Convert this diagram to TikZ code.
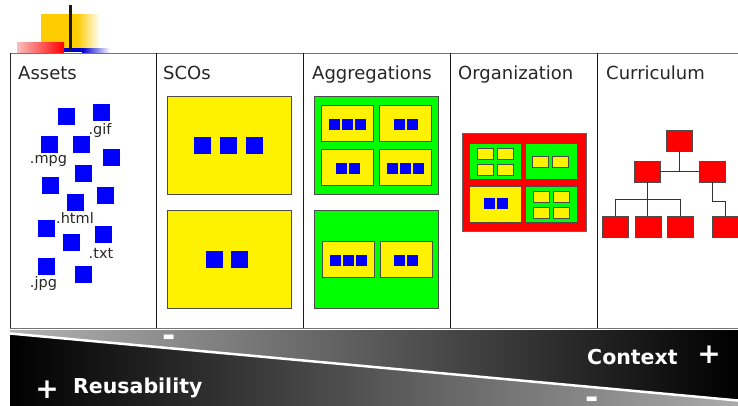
\documentclass[tikz,border=0pt]{standalone}
\usepackage{fontspec}
\setmainfont{DejaVu Sans}
\usepackage{tikz}
\usetikzlibrary{calc}

\definecolor{decoyellow}{RGB}{255,204,0}
\definecolor{decopink}{RGB}{250,190,190}

\begin{document}
\begin{tikzpicture}[
  x=1pt, y=-1pt,
  hdr/.style={font=\fontsize{18}{18}\selectfont, anchor=base west, inner sep=0pt, text=black!85},
  ext/.style={font=\fontsize{14.5}{14.5}\selectfont, inner sep=0pt, text=black!85},
  blk/.style={fill=blue, minimum size=17, inner sep=0pt},
  sblk/.style={fill=blue, minimum size=11, inner sep=0pt},
  bigbox/.style={draw=black!70, fill=#1, line width=0.8pt, minimum width=124,
                 minimum height=98, inner sep=0pt},
  midbox/.style={draw=black!70, fill=#1, line width=0.8pt, minimum width=52,
                 minimum height=36, inner sep=0pt},
  ysm/.style={draw=black!70, fill=yellow, line width=0.6pt, minimum width=16,
              minimum height=11, inner sep=0pt},
  cbox/.style={draw=black!70, fill=red, line width=0.6pt, minimum width=26,
               minimum height=21, inner sep=0pt},
  conn/.style={draw=black!80, line width=0.8pt},
  band/.style={font=\bfseries\fontsize{20.5}{20.5}\selectfont, text=white, inner sep=0pt},
  sign/.style={font=\bfseries\fontsize{28}{28}\selectfont, text=white, inner sep=0pt},
  minussign/.style={font=\bfseries\fontsize{32}{32}\selectfont, text=white, inner sep=0pt}
]
\useasboundingbox (0,0) rectangle (738,405);
\clip (0,0) rectangle (738,405);

% Title decoration
\fill[decoyellow] (41,14) rectangle (77,50);
\shade[left color=decoyellow, right color=white] (77,14) rectangle (100,50);
\shade[left color=decopink, right color=red] (17,42) rectangle (64,52);
\fill[blue!80!black] (64,48) rectangle (82,52);
\shade[left color=blue!80!black, right color=white] (82,48) rectangle (110,52);
\fill[black!90] (69,5) rectangle (72,52);

% Table frame
\draw[black!55, line width=1pt] (10,53) -- (745,53);
\draw[black!55, line width=1pt] (10,328) -- (745,328);
\draw[black!85, line width=1pt] (10,53) -- (10,328);
\foreach \x in {156.5,303.5,450.5,597.5} { \draw[black!90, line width=0.8pt] (\x,53) -- (\x,328); }

% Column headers
\node[hdr] (hAssets) at (18,79) {Assets};
\node[hdr] (hSCO) at (163,79) {SCOs};
\node[hdr] (hAgg) at (312,79) {Aggregations};
\node[hdr] (hOrg) at (458,79) {Organization};
\node[hdr] (hCur) at (606,79) {Curriculum};

% Assets
\foreach \x/\y [count=\i] in {66.5/116.5, 101.5/112.5, 49.5/144.5, 81.5/144.5,
    111.5/157.5, 83.5/173.5, 50.5/185.5, 105.5/195.5, 75.5/202.5, 46.5/228.5,
    103.5/234.5, 71.5/242.5, 46.5/266.5, 83.5/274.5}
  { \node[blk] (asset\i) at (\x,\y) {}; }
\node[ext] (gif)  at (100,130)  {.gif};
\node[ext] (mpg)  at (48.5,161) {.mpg};
\node[ext] (html) at (75,218)   {.html};
\node[ext] (txt)  at (101,253)  {.txt};
\node[ext] (jpg)  at (43.5,283) {.jpg};

% SCOs
\node[bigbox=yellow] (sco1) at (229,145) {};
\node[bigbox=yellow] (sco2) at (229,259) {};
\foreach \dx [count=\i] in {-27,-1,25} { \node[blk] (sco1-\i) at ($(sco1)+(\dx,0.5)$) {}; }
\foreach \dx [count=\i] in {-14.5,10.5} { \node[blk] (sco2-\i) at ($(sco2)+(\dx,0.5)$) {}; }

% Aggregations
\node[bigbox=green] (agg1) at (376.5,145) {};
\node[bigbox=green] (agg2) at (376.5,259) {};
\node[midbox=yellow] (aggA) at (347.5,123) {};
\node[midbox=yellow] (aggB) at (405.5,123) {};
\node[midbox=yellow] (aggC) at (347.5,167) {};
\node[midbox=yellow] (aggD) at (405.5,167) {};
\node[midbox=yellow] (aggE) at (348,259) {};
\node[midbox=yellow] (aggF) at (406,259) {};
\foreach \b in {aggA,aggD,aggE} {
  \foreach \dx [count=\i] in {-13,0,13} { \node[sblk] (\b-\i) at ($(\b)+(\dx,1)$) {}; }
}
\foreach \b in {aggB,aggC,aggF} {
  \foreach \dx [count=\i] in {-6.5,6.5} { \node[sblk] (\b-\i) at ($(\b)+(\dx,1)$) {}; }
}

% Organization
\node[bigbox=red, draw=black!60] (org) at (524,182) {};
\node[midbox=green]  (orgA) at (495,161) {};
\node[midbox=green]  (orgB) at (551.5,161) {};
\node[midbox=yellow] (orgC) at (495,204) {};
\node[midbox=green]  (orgD) at (551.5,204) {};
\foreach \dx/\dy [count=\i] in {-10/-7, 10/-7, -10/8.5, 10/8.5}
  { \node[ysm] (orgA-\i) at ($(orgA)+(\dx,\dy)$) {}; }
\foreach \dx [count=\i] in {-11.5,8.5} { \node[ysm] (orgB-\i) at ($(orgB)+(\dx,0.5)$) {}; }
\foreach \dx [count=\i] in {-5.5,7.5} { \node[sblk] (orgC-\i) at ($(orgC)+(\dx,-0.5)$) {}; }
\foreach \dx/\dy [count=\i] in {-10.5/-7, 9.5/-7, -10.5/8.5, 9.5/8.5}
  { \node[ysm] (orgD-\i) at ($(orgD)+(\dx,\dy)$) {}; }

% Curriculum
\node[cbox] (root) at (679.5,140.5) {};
\node[cbox] (midL) at (647,171.5) {};
\node[cbox] (midR) at (712,171.5) {};
\node[cbox] (leaf1) at (615.5,226.5) {};
\node[cbox] (leaf2) at (648,226.5) {};
\node[cbox] (leaf3) at (680,226.5) {};
\node[cbox] (leaf4) at (725,226.5) {};
\draw[conn] (root.south) -- (root.south |- midL.east);
\draw[conn] (midL.east) -- (midR.west);
\draw[conn] (midL.south) -- (midL.south |- leaf2.north);
\draw[conn] (leaf1.north) -- ++(0,-16) -| (leaf3.north);
\draw[conn] (midR.south) -- ++(0,19) -| (leaf4.north);

% Reusability / context band
\coordinate (bandTL) at (10,330);
\coordinate (bandTR) at (738,330);
\coordinate (cutL) at (10,333.5);
\coordinate (cutR) at (738,400.5);
\shade[left color=black!30, right color=black] (bandTL) -- (bandTR) -- (cutR) -- (cutL) -- cycle;
\shade[left color=black, right color=black!33] (cutL) -- (cutR) -- (738,410) -- (10,410) -- cycle;
\draw[white, line width=2.5pt] (cutL) -- (cutR);

\node[band, anchor=base west] (ctx) at (587,364) {Context};
\node[sign] (ctxPlus) at (709,354.5) {+};
\node[sign] (reuPlus) at (47,390) {+};
\node[band, anchor=base west] (reu) at (73,393) {Reusability};
\node[minussign] (ctxMinus) at (169.5,340.5) {-};
\node[minussign] (reuMinus) at (592.5,402.5) {-};
\end{tikzpicture}
\end{document}
